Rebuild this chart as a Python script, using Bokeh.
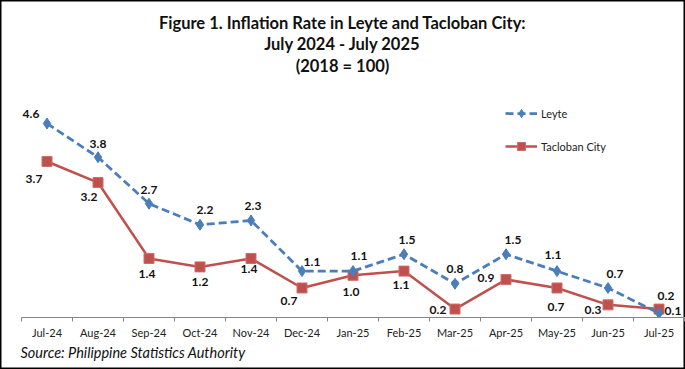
from bokeh.plotting import figure
from bokeh.models import Range1d, FixedTicker, Label, Legend, LegendItem, ColumnDataSource, Title
from bokeh.core.properties import value
from bokeh.embed import file_html
from bokeh.resources import INLINE

# ---------------- data ----------------
months = ["Jul-24", "Aug-24", "Sep-24", "Oct-24", "Nov-24", "Dec-24", "Jan-25",
          "Feb-25", "Mar-25", "Apr-25", "May-25", "Jun-25", "Jul-25"]
leyte = [4.6, 3.8, 2.7, 2.2, 2.3, 1.1, 1.1, 1.5, 0.8, 1.5, 1.1, 0.7, 0.1]
tacloban = [3.7, 3.2, 1.4, 1.2, 1.4, 0.7, 1.0, 1.1, 0.2, 0.9, 0.7, 0.3, 0.2]
series_names = ["Leyte", "Tacloban City"]
title_lines = ["Figure 1. Inflation Rate in Leyte and Tacloban City:",
               "July 2024 - July 2025",
               "(2018 = 100)"]
source_text = "Source: Philippine Statistics Authority"

# ---------------- layout (pixels) ----------------
W, H = 685, 369
LEFT = 21
BOTTOM = 52
FRAME_W = W - LEFT
FRAME_H = H - BOTTOM
CAT_PX = 51.0
UNIT_PX = 42.17

leyte_dx = [-16, 0, 0, 5, 2, 10, 6, 3, 0, 7, -4, 7, 14]
leyte_dy = [-10, -13, -14, -15, -15, -9, -15, -14, -15, -14, -16, -14, -2]
tac_dx = [-13, -9, -2, 0, -2, -13, -2, -3, -17, -20, -1, -15, 7]
tac_dy = [18, 14, 16, 15, 11, 13, 17, 14, 1, -2, 19, 5, -13]

BLUE = "#4a7ebb"
RED = "#c0504d"
FONT = "Lato"

xs = list(range(len(months)))


def px2x(px):
    return -0.5 + (px - LEFT) / CAT_PX


def px2y(py):
    return (FRAME_H - py) / UNIT_PX


p = figure(width=W, height=H, output_backend="svg", toolbar_location=None,
           x_range=Range1d(-0.5, -0.5 + FRAME_W / CAT_PX),
           y_range=Range1d(0, FRAME_H / UNIT_PX),
           y_axis_location=None, min_border_left=LEFT, min_border_right=0,
           min_border_top=0, min_border_bottom=BOTTOM)
p.outline_line_color = None
p.xgrid.visible = False
p.ygrid.visible = False
p.border_fill_alpha = 0
p.background_fill_alpha = 0
p.styles = {"box-shadow": "inset 0 0 0 1.5px #000", "background-color": "#ffffff"}

ax = p.xaxis[0]
ax.ticker = FixedTicker(ticks=xs, minor_ticks=[i - 0.5 for i in range(len(months) + 1)])
ax.major_label_overrides = {i: m for i, m in enumerate(months)}
ax.major_tick_in = 0
ax.major_tick_out = 0
ax.minor_tick_in = 0
ax.minor_tick_out = 4
ax.axis_line_color = "#868686"
ax.minor_tick_line_color = "#868686"
ax.axis_line_width = 1
ax.major_label_standoff = 4
ax.major_label_text_font = FONT
ax.major_label_text_font_size = "11px"
ax.major_label_text_color = "#222222"

src = ColumnDataSource(dict(x=xs, leyte=leyte, tac=tacloban,
                            lt=[f"{v:.1f}" for v in leyte],
                            tt=[f"{v:.1f}" for v in tacloban],
                            ldx=leyte_dx, ldy=leyte_dy, tdx=tac_dx, tdy=tac_dy))

r_tl = p.line("x", "tac", source=src, line_color=RED, line_width=2.5)
r_tm = p.scatter("x", "tac", source=src, marker="square", size=10,
                 fill_color=RED, line_color="#cc6e6b", line_width=1)
r_ll = p.line("x", "leyte", source=src, line_color=BLUE, line_width=2.75,
              line_dash="8 4")
r_lm = p.scatter("x", "leyte", source=src, marker="diamond", size=11,
                 fill_color=BLUE, line_color=BLUE)

p.text("x", "leyte", text="lt", source=src, x_offset="ldx", y_offset="ldy",
       text_align="center", text_baseline="middle", text_font=value(FONT),
       text_font_style="bold", text_font_size="12px", text_color="#111111")
p.text("x", "tac", text="tt", source=src, x_offset="tdx", y_offset="tdy",
       text_align="center", text_baseline="middle", text_font=value(FONT),
       text_font_style="bold", text_font_size="12px", text_color="#111111")

legend = Legend(items=[LegendItem(label=series_names[0], renderers=[r_ll, r_lm]),
                       LegendItem(label=series_names[1], renderers=[r_tl, r_tm])],
                location=(505 - LEFT, FRAME_H - 156), orientation="vertical",
                glyph_width=32, glyph_height=20, label_height=20, spacing=13,
                padding=0, margin=0, label_standoff=4,
                border_line_color=None, background_fill_alpha=0,
                label_text_font=FONT, label_text_font_size="11px",
                label_text_color="#222222")
p.add_layout(legend, "center")

for line, ypx in zip(title_lines, [22, 43, 65]):
    p.add_layout(Label(x=px2x(342), y=px2y(ypx), text=line, text_align="center",
                       text_baseline="middle", text_font=FONT, text_font_style="bold",
                       text_font_size="16.5px", text_color="#111111"))

p.add_layout(Title(text=source_text, align="left", offset=-1, standoff=0,
                   text_font=FONT, text_font_style="italic", text_font_size="14.5px",
                   text_color="#111111"), "below")

open("out.html", "w").write(file_html(p, INLINE))
